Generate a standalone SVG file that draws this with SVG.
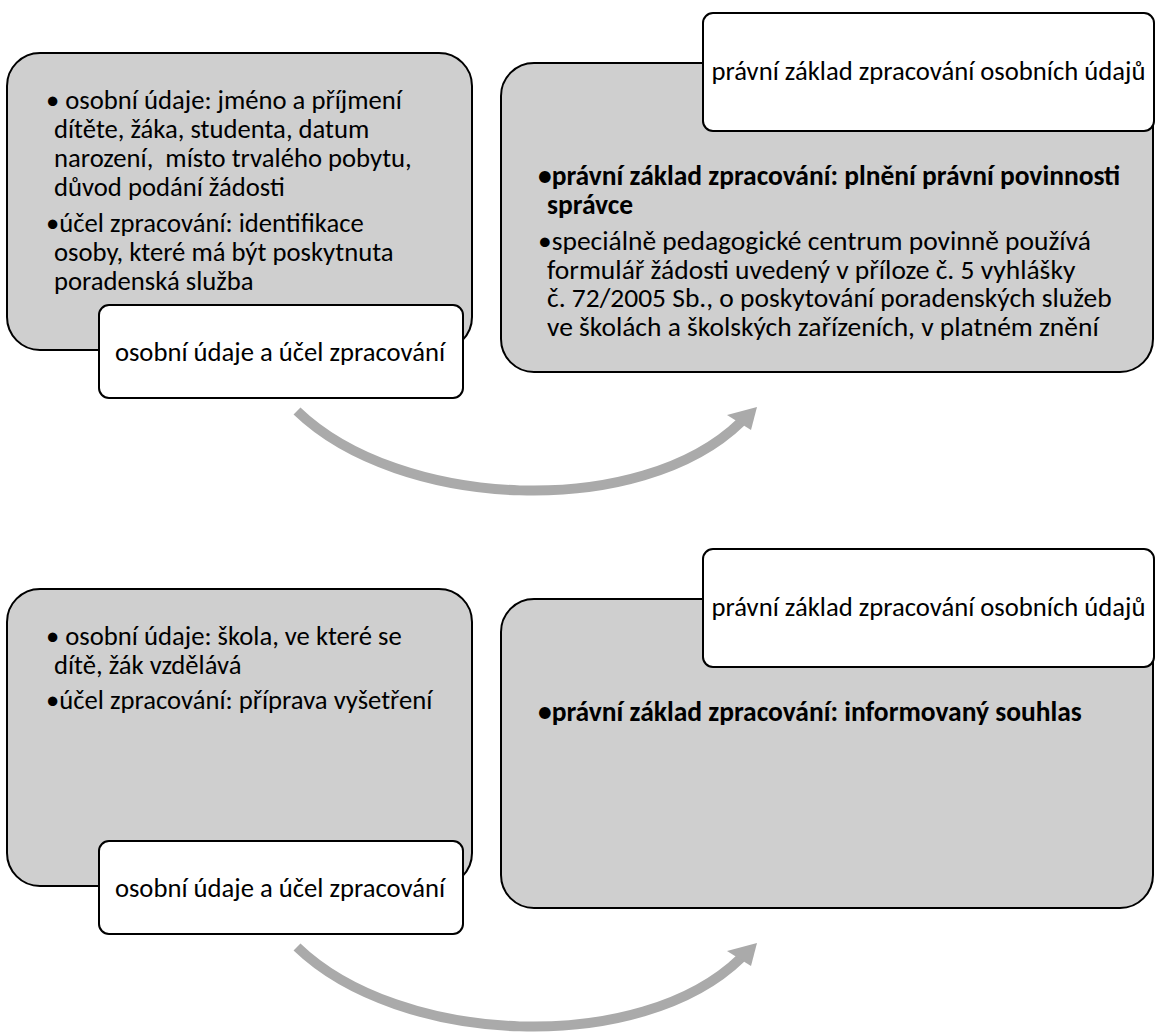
<svg xmlns="http://www.w3.org/2000/svg" width="1156" height="1032" viewBox="0 0 1156 1032">
<style>
.grey{fill:#cfcfcf;stroke:#000;stroke-width:2}
.white{fill:#fff;stroke:#000;stroke-width:2}
text{font-family:Carlito,"Liberation Sans",sans-serif;font-size:26.67px;fill:#000}
.r{font-size:27.5px}
.b{font-weight:bold}
.c{text-anchor:middle}
.arc{fill:none;stroke:#aaaaaa;stroke-width:10}
.head{fill:#aaaaaa}
</style>
<rect width="1156" height="1032" fill="#fff"/>

<!-- top row -->
<g id="tl-content">
<rect class="grey" x="7" y="53" width="465" height="297" rx="33"/>
<text xml:space="preserve"><tspan x="46" y="109">• osobní údaje: jméno a příjmení</tspan><tspan x="54" y="138">dítěte, žáka, studenta, datum</tspan><tspan x="54" y="167">narození,  místo trvalého pobytu,</tspan><tspan x="54" y="196">důvod podání žádosti</tspan></text>
<text><tspan x="46" y="232">•účel zpracování: identifikace</tspan><tspan x="54" y="261">osoby, které má být poskytnuta</tspan><tspan x="54" y="290">poradenská služba</tspan></text>
</g>
<g id="tl-label">
<rect class="white" x="99" y="305" width="364" height="93" rx="10"/>
<text class="c" x="280" y="361">osobní údaje a účel zpracování</text>
</g>
<g id="tr-content">
<rect class="grey" x="501" y="63" width="652" height="309" rx="33"/>
<text class="r b"><tspan x="538" y="185">•právní základ zpracování: plnění právní povinnosti</tspan><tspan x="547" y="214">správce</tspan></text>
<text class="r"><tspan x="538" y="250">•speciálně pedagogické centrum povinně používá</tspan><tspan x="547" y="279">formulář žádosti uvedený v příloze č. 5 vyhlášky</tspan><tspan x="547" y="307">č. 72/2005 Sb., o poskytování poradenských služeb</tspan><tspan x="547" y="336">ve školách a školských zařízeních, v platném znění</tspan></text>
</g>
<g id="tr-label">
<rect class="white" x="703" y="13" width="451" height="118" rx="10"/>
<text class="c" x="928.5" y="80">právní základ zpracování osobních údajů</text>
</g>

<!-- bottom row -->
<g id="bl-content">
<rect class="grey" x="7" y="589" width="465" height="297" rx="33"/>
<text><tspan x="46" y="645">• osobní údaje: škola, ve které se</tspan><tspan x="54" y="674">dítě, žák vzdělává</tspan></text>
<text x="46" y="709">•účel zpracování: příprava vyšetření</text>
</g>
<g id="bl-label">
<rect class="white" x="99" y="841" width="364" height="93" rx="10"/>
<text class="c" x="280" y="897">osobní údaje a účel zpracování</text>
</g>
<g id="br-content">
<rect class="grey" x="501" y="599" width="652" height="309" rx="33"/>
<text class="r b" x="538" y="721">•právní základ zpracování: informovaný souhlas</text>
</g>
<g id="br-label">
<rect class="white" x="703" y="549" width="451" height="118" rx="10"/>
<text class="c" x="928.5" y="616">právní základ zpracování osobních údajů</text>
</g>

<g id="connectors">
<path class="arc" d="M297,411 C400,510 640,520 741,422"/>
<polygon class="head" points="757,407 727,415 751,430"/>
<path class="arc" d="M297,947 C400,1046 640,1056 741,958"/>
<polygon class="head" points="757,943 727,951 751,966"/>
</g>
</svg>
